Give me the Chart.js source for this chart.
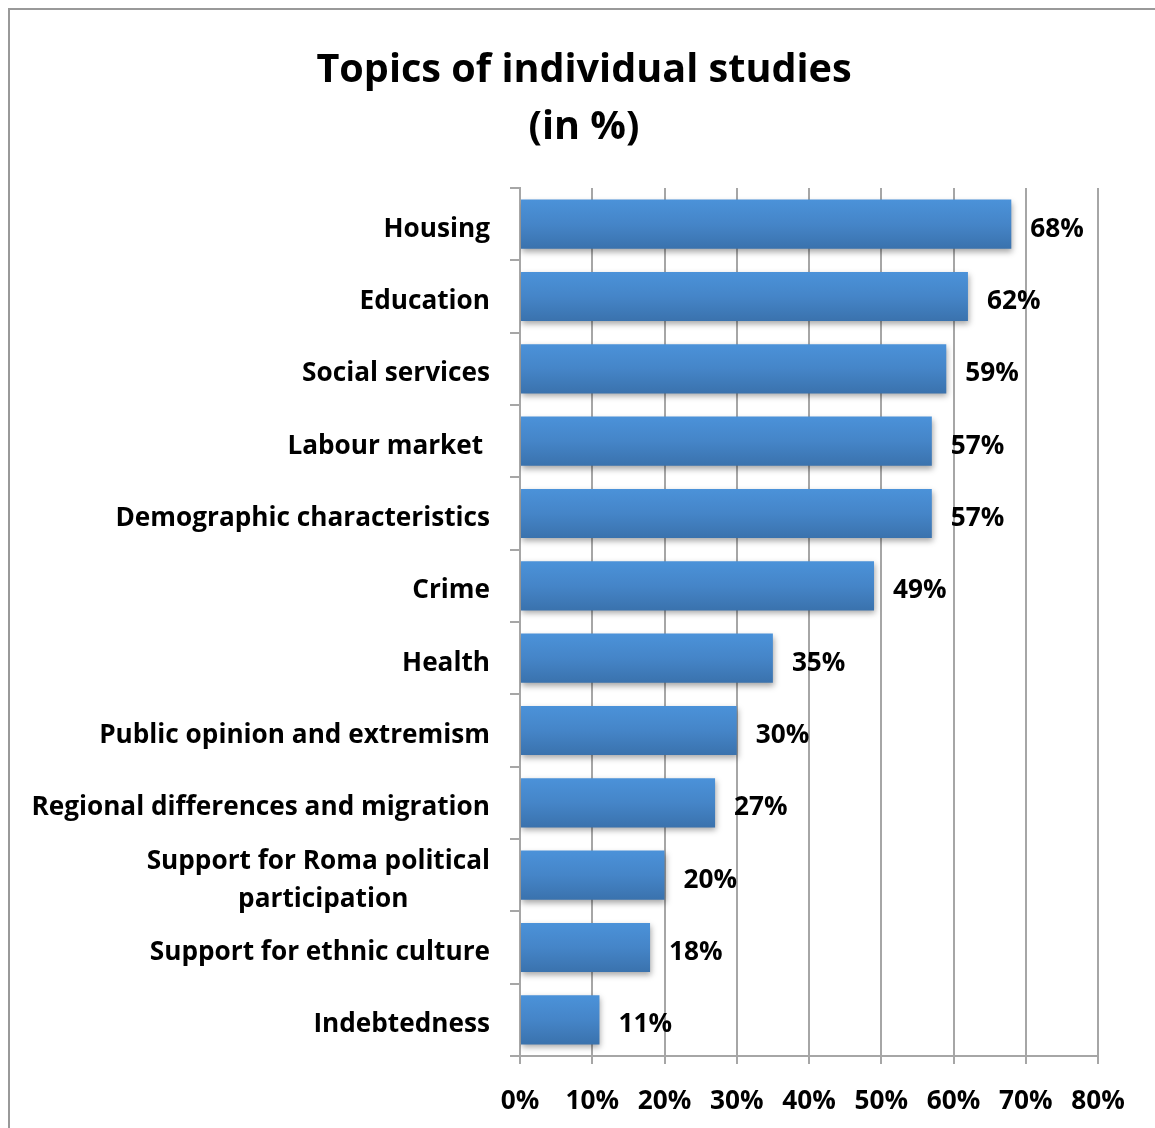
<!DOCTYPE html>
<html>
<head>
<meta charset="utf-8">
<script src="https://cdn.jsdelivr.net/npm/chart.js@4.4.1/dist/chart.umd.min.js"></script>
<style>
  html, body { margin: 0; padding: 0; background: #fff; overflow: hidden; }
  #frame { position: absolute; left: 8px; top: 8px; width: 1300px; height: 1300px; border: 2px solid #999; box-sizing: border-box; }
  #wrap { position: absolute; left: 0; top: 0; width: 1155px; height: 1128px; }
</style>
</head>
<body>
<div id="frame"></div>
<div id="wrap"><canvas id="chart"></canvas></div>
<script>
const titleLines = ['Topics of individual studies', '(in %)'];
const categories = [
  'Housing', 'Education', 'Social services', 'Labour market ', 'Demographic characteristics',
  'Crime', 'Health', 'Public opinion and extremism', 'Regional differences and migration',
  ['Support for Roma political', 'participation'], 'Support for ethnic culture', 'Indebtedness'
];
const values = [68, 62, 59, 57, 57, 49, 35, 30, 27, 20, 18, 11];
const xTicks = [0, 10, 20, 30, 40, 50, 60, 70, 80];

const FONT = '"Open Sans"';
const measure = document.createElement('canvas').getContext('2d');

// pick a font size so a sample string is as wide as in the picture
function fitSize(text, width) {
  measure.font = 'bold 100px ' + FONT;
  return Math.round(100 * width / measure.measureText(text).width * 10) / 10;
}
const labelSize = fitSize('Demographic characteristics', 375);
const titleSize = fitSize(titleLines[0], 536);
const labelFont = 'bold ' + labelSize + 'px ' + FONT;

// centre the short second line of a two-line label under the first one
measure.font = labelFont;
const yLabels = categories.map(function(c) {
  if (!Array.isArray(c)) return c;
  const w0 = measure.measureText(c[0]).width;
  const w1 = measure.measureText(c[1]).width;
  let second = c[1];
  while (measure.measureText(second + ' ').width - w1 <= (w0 - w1) / 2) {
    second += ' ';
  }
  return [c[0], second];
});

const barShadow = {
  id: 'barShadow',
  beforeDatasetsDraw(chart) {
    const ctx = chart.ctx;
    ctx.save();
    ctx.shadowColor = 'rgba(0,0,0,0.35)';
    ctx.shadowBlur = 6;
    ctx.shadowOffsetX = 1;
    ctx.shadowOffsetY = 3;
  },
  afterDatasetsDraw(chart) {
    chart.ctx.restore();
  }
};

const valueLabels = {
  id: 'valueLabels',
  afterDatasetsDraw(chart) {
    const ctx = chart.ctx;
    const meta = chart.getDatasetMeta(0);
    ctx.save();
    ctx.font = labelFont;
    ctx.fillStyle = '#000';
    ctx.textAlign = 'left';
    ctx.textBaseline = 'middle';
    meta.data.forEach(function(bar, i) {
      ctx.fillText(values[i] + '%', bar.x + 19, bar.y + 5);
    });
    ctx.restore();
  }
};

const chartTitle = {
  id: 'chartTitle',
  afterDraw(chart) {
    const ctx = chart.ctx;
    ctx.save();
    ctx.font = 'bold ' + titleSize + 'px ' + FONT;
    ctx.fillStyle = '#000';
    ctx.textAlign = 'center';
    ctx.textBaseline = 'middle';
    ctx.fillText(titleLines[0], 584, 71);
    ctx.fillText(titleLines[1], 584, 128);
    ctx.restore();
  }
};

function barGradient(context) {
  const chart = context.chart;
  const area = chart.chartArea;
  if (!area) return '#4586c9';
  const yc = chart.scales.y.getPixelForValue(context.dataIndex);
  const half = (area.bottom - area.top) / categories.length * 0.68 / 2;
  const g = chart.ctx.createLinearGradient(0, yc - half, 0, yc + half);
  g.addColorStop(0, '#4b92d9');
  g.addColorStop(0.5, '#4585c8');
  g.addColorStop(1, '#3a72ad');
  return g;
}

new Chart(document.getElementById('chart'), {
  type: 'bar',
  data: {
    labels: yLabels,
    datasets: [{
      data: values,
      backgroundColor: barGradient,
      borderWidth: 0,
      barPercentage: 0.68,
      categoryPercentage: 1
    }]
  },
  options: {
    indexAxis: 'y',
    responsive: true,
    maintainAspectRatio: false,
    animation: false,
    layout: { padding: { top: 188, right: 57, left: 0, bottom: 0 } },
    plugins: {
      legend: { display: false },
      title: { display: false },
      tooltip: { enabled: false }
    },
    scales: {
      x: {
        min: 0,
        max: 80,
        afterBuildTicks: function(scale) {
          scale.ticks = xTicks.map(v => ({ value: v }));
        },
        afterFit: function(scale) { scale.height = 72; },
        grid: { color: '#a6a6a6', lineWidth: 2, tickLength: 8 },
        border: { color: '#a6a6a6', width: 2 },
        ticks: {
          color: '#000',
          font: { family: FONT, size: labelSize, weight: 'bold' },
          padding: 22,
          maxRotation: 0,
          autoSkip: false,
          callback: v => v + '%'
        }
      },
      y: {
        afterFit: function(scale) { scale.width = 520; },
        grid: { offset: true, drawOnChartArea: false, color: '#a6a6a6', lineWidth: 2, tickLength: 10 },
        border: { color: '#a6a6a6', width: 2 },
        ticks: {
          color: '#000',
          autoSkip: false,
          labelOffset: 5,
          font: { family: FONT, size: labelSize, weight: 'bold', lineHeight: 1.45 },
          padding: 20
        }
      }
    }
  },
  plugins: [barShadow, valueLabels, chartTitle]
});
</script>
</body>
</html>
